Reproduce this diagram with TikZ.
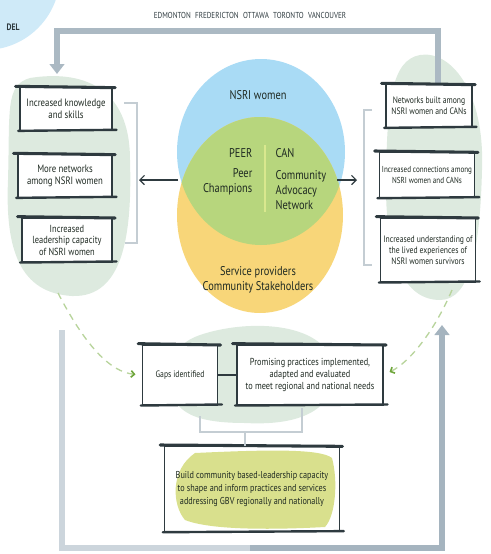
\documentclass[tikz,border=0pt]{standalone}
\usepackage{fontspec}
\setmainfont{PT Sans}[FakeStretch=0.82]
\usetikzlibrary{arrows.meta}
\definecolor{ink}{HTML}{2E3A3F}
\definecolor{textink}{HTML}{1F2A22}
\definecolor{loopdark}{HTML}{A5B4BF}
\definecolor{looplight}{HTML}{CCD5DC}
\definecolor{blobgreen}{HTML}{DDEADF}
\definecolor{cornerblue}{HTML}{CFEAF8}
\definecolor{vennblue}{HTML}{A9DBF5}
\definecolor{vennyellow}{HTML}{F8D679}
\definecolor{venngreen}{HTML}{B7D67D}
\definecolor{sepgreen}{HTML}{D9E88E}
\definecolor{dashgreen}{HTML}{B8D49C}
\definecolor{tipgreen}{HTML}{6FA63C}
\definecolor{bracketgray}{HTML}{C4CDD3}
\definecolor{buildfill}{HTML}{D9E08D}

\tikzset{
  outcome/.style={draw=ink, line width=0.8pt, fill=white, align=center, text=textink,
    font=\fontsize{7}{8.4}\selectfont, inner sep=2pt},
  bigger/.style={font=\fontsize{8}{9.4}\selectfont},
  inkbar/.style={draw=ink, line width=2.3pt, line cap=round},
  vennlabel/.style={text=textink, font=\fontsize{9.5}{11.5}\selectfont},
  loopline/.style={line width=4pt},
  looptip/.style={-{Triangle[width=11pt,length=7.5pt]}},
  pointer/.style={draw=ink, line width=0.9pt, -{Straight Barb[length=3.5pt,width=7pt]}},
  dashlink/.style={draw=dashgreen, line width=1pt, dash pattern=on 5pt off 4pt,
    shorten >=5pt, -{Straight Barb[length=2.5pt,width=5pt,color=tipgreen,line width=1.2pt]}},
  brk/.style={draw=bracketgray, line width=1.4pt}
}

\begin{document}
\begin{tikzpicture}[x=0.75pt, y=-0.75pt]
    \useasboundingbox (0,0) rectangle (490,554);
    \clip (0,0) rectangle (490,554);

    \fill[cornerblue] (-15,-25) circle (75);
    \node (model) at (2,27) [anchor=west, text=ink, font=\fontsize{7}{8}\selectfont\bfseries] {DEL};
    \node (cities) at (250,15) [text=ink, font=\fontsize{6.5}{8}\selectfont] {EDMONTON\enspace FREDERICTON\enspace OTTAWA\enspace TORONTO\enspace VANCOUVER};

    \fill[blobgreen] (30,78) .. controls (80,70) and (130,85) .. (130,160) .. controls (132,230) and (125,298) .. (72,296) .. controls (20,293) and (5,250) .. (8,180) .. controls (10,110) and (5,85) .. (30,78) -- cycle;
    \fill[blobgreen] (420,55) .. controls (450,50) and (485,90) .. (482,170) .. controls (480,250) and (470,300) .. (440,300) .. controls (405,300) and (385,260) .. (386,180) .. controls (387,100) and (392,60) .. (420,55) -- cycle;
    \fill[blobgreen] (200,335) .. controls (250,318) and (330,322) .. (334,370) .. controls (336,410) and (300,426) .. (245,423) .. controls (190,423) and (168,410) .. (170,375) .. controls (172,350) and (185,340) .. (200,335) -- cycle;
    \fill[buildfill] (195,453) .. controls (260,450) and (320,448) .. (332,458) .. controls (338,480) and (336,515) .. (325,527) .. controls (270,530) and (210,530) .. (185,520) .. controls (172,505) and (170,470) .. (195,453) -- cycle;

    \coordinate (topR) at (438,100);
    \coordinate (topL) at (57,74);
    \coordinate (botL) at (62,330);
    \coordinate (botR) at (442,325);
    \draw[loopline, draw=loopdark!85!looplight, looptip] (topR) -- (438,31) -- (57,31) -- (topL);
    \draw[loopline, draw=looplight] (botL) -- (62,548) -- (250,548);
    \draw[loopline, draw=loopdark, looptip] (250,548) -- (442,548) -- (botR);

    \fill[vennblue] (261,152) ellipse [x radius=84, y radius=93];
    \fill[vennyellow] (260,215) ellipse [x radius=83, y radius=98];
    \begin{scope}
        \clip (261,152) ellipse [x radius=84, y radius=93];
        \fill[venngreen] (260,215) ellipse [x radius=83, y radius=98];
    \end{scope}
    \draw[sepgreen, line width=1.2pt] (265,145) -- (265,212);

    \node[vennlabel] (nsri) at (258,95) {NSRI women};
    \node[vennlabel] (peer) at (257,153) [anchor=east] {PEER};
    \node[vennlabel] (can) at (271,153) [anchor=west] {CAN};
    \node[vennlabel, align=right] (champ) at (257,182) [anchor=east] {Peer\\Champions};
    \node[vennlabel, align=left] (canfull) at (271,190) [anchor=west] {Community\\Advocacy\\Network};
    \node[vennlabel, align=center] (serv) at (258,280) {Service providers\\Community Stakeholders};

    \node[outcome, bigger, minimum width=69pt, minimum height=32pt] (know) at (66,109) {Increased knowledge\\and skills};
    \node[outcome, bigger, minimum width=70.5pt, minimum height=32pt] (nets) at (65,176) {More networks\\among NSRI women};
    \node[outcome, bigger, minimum width=67.5pt, minimum height=33pt, font=\fontsize{7.7}{8.6}\selectfont] (lead) at (67,240) {Increased\\leadership capacity\\of NSRI women};

    \node[outcome, minimum width=64.5pt, minimum height=32pt] (built) at (429,106) {Networks built among\\NSRI women and CANs};
    \node[outcome, minimum width=70.5pt, minimum height=34pt, font=\fontsize{6.5}{8.4}\selectfont] (conn) at (427,175) {Increased connections among\\NSRI women and CANs};
    \node[outcome, minimum width=67.5pt, minimum height=48pt] (lived) at (428,250) {Increased understanding of\\the lived experiences of\\NSRI women survivors};

    \node[outcome, minimum width=56pt, minimum height=45pt] (gaps) at (180,375) {Gaps identified};
    \node[outcome, minimum width=109.5pt, minimum height=45pt, font=\fontsize{7.6}{9}\selectfont] (prom) at (310,375) {Promising practices implemented,\\adapted and evaluated\\to meet regional and national needs};
    \node[outcome, fill=none, minimum width=131pt, minimum height=64pt, font=\fontsize{7.5}{9.6}\selectfont] (build) at (252,489) {Build community based-leadership capacity\\to shape and inform practices and services\\addressing GBV regionally and nationally};

    \foreach \b in {know, nets, lead, built, conn, lived, gaps, prom, build} {
        \draw[inkbar] ([xshift=-3pt,yshift=0.6pt]\b.north west) -- ([xshift=2pt,yshift=-0.4pt]\b.north east);
        \draw[inkbar, line width=1.8pt] ([xshift=-1pt]\b.south west) -- ([xshift=3pt,yshift=0.8pt]\b.south east);
    }

    \draw[brk] (124,103) -- (137,103) -- (137,243) -- (125,243);
    \draw[brk] (372,110) -- (364,110) -- (364,265) -- (372,265);

    \coordinate (vennW) at (178,180);
    \coordinate (vennE) at (337,180);
    \coordinate (leftbrk) at (139,180);
    \coordinate (rightbrk) at (357,180);
    \draw[pointer] (vennW) -- (leftbrk);
    \draw[pointer] (vennE) -- (rightbrk);

    \coordinate (leftblob) at (58,293);
    \coordinate (rightblob) at (452,290);
    \draw[dashlink] (leftblob) .. controls (85,345) and (110,372) .. (gaps.west);
    \draw[dashlink] (rightblob) .. controls (435,330) and (410,362) .. (prom.east);

    \draw[ink, line width=0.9pt] (gaps) -- (prom);
    \coordinate (brkmid) at (245,432);
    \draw[brk] (200,416) |- (302,432) -- (302,408);
    \draw[brk] (brkmid) -- (brkmid |- build.north);
\end{tikzpicture}
\end{document}
